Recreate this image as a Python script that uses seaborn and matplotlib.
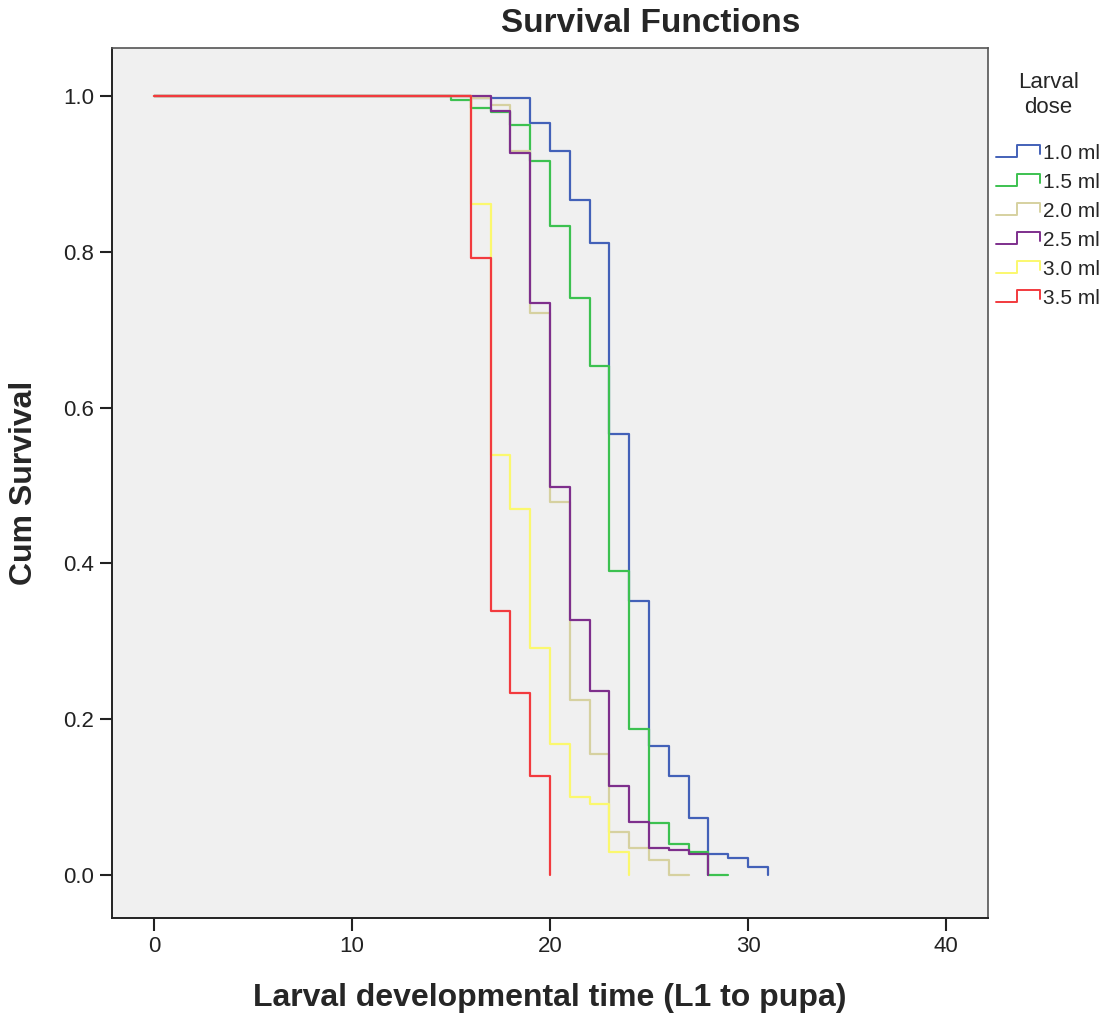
import numpy as np
import pandas as pd
import matplotlib
matplotlib.use("Agg")
import matplotlib.pyplot as plt
from matplotlib.lines import Line2D
from matplotlib.legend_handler import HandlerBase
import seaborn as sns

# Kaplan-Meier style step curves
doses = ["1.0 ml", "1.5 ml", "2.0 ml", "2.5 ml", "3.0 ml", "3.5 ml"]

t_10 = [0, 16, 19, 20, 21, 22, 23, 24, 25, 26, 27, 28, 29, 30, 31]
s_10 = [1.0, 0.997, 0.965, 0.929, 0.866, 0.811, 0.566, 0.352, 0.166, 0.127, 0.073, 0.027, 0.022, 0.010, 0.0]

t_15 = [0, 15, 16, 17, 18, 19, 20, 21, 22, 23, 24, 25, 26, 27, 28, 29]
s_15 = [1.0, 0.995, 0.984, 0.979, 0.963, 0.916, 0.833, 0.741, 0.653, 0.390, 0.187, 0.067, 0.040, 0.030, 0.0, 0.0]

t_20 = [0, 16, 17, 18, 19, 20, 21, 22, 23, 24, 25, 26, 27]
s_20 = [1.0, 0.997, 0.988, 0.930, 0.721, 0.479, 0.225, 0.155, 0.056, 0.035, 0.019, 0.0, 0.0]

t_25 = [0, 17, 18, 19, 20, 21, 22, 23, 24, 25, 26, 27, 28]
s_25 = [1.0, 0.981, 0.927, 0.734, 0.498, 0.328, 0.236, 0.114, 0.068, 0.035, 0.032, 0.027, 0.0]

t_30 = [0, 16, 17, 18, 19, 20, 21, 22, 23, 24]
s_30 = [1.0, 0.861, 0.539, 0.470, 0.292, 0.168, 0.100, 0.091, 0.030, 0.0]

t_35 = [0, 16, 17, 18, 19, 20]
s_35 = [1.0, 0.792, 0.339, 0.234, 0.127, 0.0]

colors = ["#4361B8", "#3CC150", "#D6D1A0", "#7E2F8C", "#FBF86E", "#F23A3E"]

times = [t_10, t_15, t_20, t_25, t_30, t_35]
survs = [s_10, s_15, s_20, s_25, s_30, s_35]
frames = []
for d, t, s in zip(doses, times, survs):
    frames.append(pd.DataFrame({"time": t, "surv": s, "dose": d}))
df = pd.concat(frames, ignore_index=True)

sns.set_style("white")
plt.rcParams["font.family"] = ["Liberation Sans", "DejaVu Sans"]

fig = plt.figure(figsize=(11.06, 10.21), dpi=100)
ax = fig.add_axes([112 / 1106, 1 - 918 / 1021, (988 - 112) / 1106, (918 - 48) / 1021])
ax.set_facecolor("#F0F0F0")

sns.lineplot(data=df, x="time", y="surv", hue="dose", hue_order=doses,
             palette=dict(zip(doses, colors)), drawstyle="steps-post",
             estimator=None, sort=True, legend=False, linewidth=1.6, ax=ax)

ax.set_xlim(-2.12, 42.12)
ax.set_ylim(-0.055, 1.0616)
ax.set_xticks([0, 10, 20, 30, 40])
ax.set_yticks([0.0, 0.2, 0.4, 0.6, 0.8, 1.0])
ax.set_yticklabels([f"{v:.1f}" for v in ax.get_yticks()])
ax.tick_params(axis="both", direction="out", length=9, width=1.5,
               labelsize=16, pad=4, colors="#222222", left=True, bottom=True)
for side in ["left", "bottom"]:
    ax.spines[side].set_color("#222222")
    ax.spines[side].set_linewidth(1.4)
for side in ["top", "right"]:
    ax.spines[side].set_color("#555555")
    ax.spines[side].set_linewidth(1.2)

ax.set_xlabel("")
ax.set_ylabel("")
fig.text(550 / 1106, 1 - 998 / 1021, "Larval developmental time (L1 to pupa)",
         ha="center", va="center", fontsize=23, fontweight="bold")
fig.text(24 / 1106, 1 - 483 / 1021, "Cum Survival", rotation=90,
         ha="center", va="center", fontsize=23, fontweight="bold")
fig.text(651 / 1106, 1 - 24 / 1021, "Survival Functions",
         ha="center", va="center", fontsize=24, fontweight="bold")


class StepHandler(HandlerBase):
    def create_artists(self, legend, orig_handle, xdescent, ydescent,
                       width, height, fontsize, trans):
        x0 = -xdescent
        y0 = -ydescent
        xs = [x0, x0 + 0.48 * width, x0 + 0.48 * width, x0 + width, x0 + width]
        ys = [y0 + 0.1 * height, y0 + 0.1 * height, y0 + 0.95 * height,
              y0 + 0.95 * height, y0 + 0.35 * height]
        line = Line2D(xs, ys, color=orig_handle.get_color(), linewidth=1.4)
        line.set_transform(trans)
        return [line]


handles = [Line2D([], [], color=c) for c in colors]
leg = fig.legend(handles, doses, title="Larval\ndose",
                 loc="upper left", bbox_to_anchor=(988 / 1106, 1 - 64 / 1021),
                 frameon=False, fontsize=15, title_fontsize=16,
                 handlelength=2.1, handletextpad=0.15, labelspacing=0.48,
                 borderpad=0.2, borderaxespad=0.2,
                 handler_map={Line2D: StepHandler()})
leg.get_title().set_multialignment("center")
leg._legend_box.sep = 19

fig.savefig("out.png", dpi=100)
